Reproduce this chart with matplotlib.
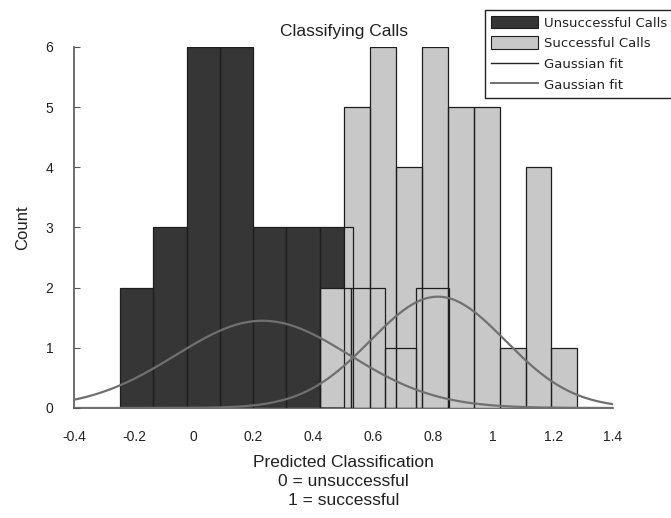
import numpy as np
import matplotlib
matplotlib.use("Agg")
import matplotlib.pyplot as plt
from matplotlib.patches import Patch
from matplotlib.lines import Line2D

plt.rcParams['font.family'] = ['Liberation Sans', 'DejaVu Sans']

# ---- data ----
unsucc_edges = [-0.246, -0.135, -0.024, 0.087, 0.198, 0.309, 0.420, 0.531]
unsucc_counts = [2, 3, 6, 6, 3, 3, 3]

succ_wide_edges = [0.423, 0.525, 0.640, 0.743, 0.853]
succ_wide_counts = [2, 2, 1, 2]

succ_edges = [0.503, 0.589, 0.676, 0.762, 0.849, 0.935, 1.021, 1.108, 1.194, 1.280]
succ_counts = [5, 6, 4, 6, 5, 5, 1, 4, 1]

# Gaussian fit parameters (amplitude, mean, sigma)
fit_unsucc = (1.45, 0.23, 0.29)
fit_succ = (1.85, 0.815, 0.225)

xticks = [-0.4, -0.2, 0, 0.2, 0.4, 0.6, 0.8, 1, 1.2, 1.4]
xticklabels = ['-0.4', '-0.2', '0', '0.2', '0.4', '0.6', '0.8', '1', '1.2', '1.4']
yticks = [0, 1, 2, 3, 4, 5, 6]

DARK = '#363636'
LIGHT = '#c8c8c8'
EDGE = '#1e1e1e'
CURVE = '#707070'

fig = plt.figure(figsize=(6.71, 5.18), dpi=100)
ax = fig.add_axes([0.1103, 0.2124, 0.8033, 0.6969])

def bars(edges, counts, **kw):
    e = np.asarray(edges)
    return ax.bar(e[:-1], counts, width=np.diff(e), align='edge', **kw)

# fills
bars(unsucc_edges, unsucc_counts, color=DARK, linewidth=0, zorder=1)
bars(succ_wide_edges, succ_wide_counts, color=LIGHT, linewidth=0, zorder=2)
bars(succ_edges, succ_counts, color=LIGHT, linewidth=0, zorder=3)
# edges on top
for ed, ct in [(unsucc_edges, unsucc_counts), (succ_wide_edges, succ_wide_counts),
               (succ_edges, succ_counts)]:
    bars(ed, ct, fill=False, edgecolor=EDGE, linewidth=0.9, zorder=4)

# gaussian fits
xs = np.linspace(-0.4, 1.4, 400)
for (a, m, s) in [fit_unsucc, fit_succ]:
    ax.plot(xs, a * np.exp(-(xs - m) ** 2 / (2 * s ** 2)), color=CURVE, lw=1.6, zorder=5)

ax.set_xlim(-0.4, 1.4)
ax.set_ylim(0, 6)
ax.set_xticks(xticks)
ax.set_xticklabels(xticklabels)
ax.set_yticks(yticks)
ax.tick_params(direction='in', length=4, colors='#555555', labelcolor='#222222',
               labelsize=10)
ax.tick_params(axis='x', pad=16, length=0)
ax.tick_params(axis='y', pad=15)
for sp in ['top', 'right']:
    ax.spines[sp].set_visible(False)
for sp in ['left', 'bottom']:
    ax.spines[sp].set_color('#555555')
    ax.spines[sp].set_linewidth(1.2)

ax.set_title('Classifying Calls', fontsize=12.5, color='#222222', pad=8)
ax.set_xlabel('Predicted Classification\n0 = unsuccessful\n1 = successful',
              fontsize=12.5, color='#222222', labelpad=8, linespacing=1.3)
ax.set_ylabel('Count', fontsize=12, color='#222222', labelpad=11)

handles = [Patch(facecolor=DARK, edgecolor=EDGE, linewidth=0.8),
           Patch(facecolor=LIGHT, edgecolor=EDGE, linewidth=0.8),
           Line2D([], [], color='#222222', lw=1.0),
           Line2D([], [], color=CURVE, lw=1.4)]
labels = ['Unsuccessful Calls', 'Successful Calls', 'Gaussian fit', 'Gaussian fit']
leg = fig.legend(handles, labels, loc='upper left', bbox_to_anchor=(0.7228, 0.981),
                 prop={'family': 'DejaVu Sans', 'size': 9.5},
                 fancybox=False, framealpha=1, edgecolor='#222222',
                 handlelength=3.55, handleheight=1.1, labelspacing=0.52,
                 borderpad=0.45, handletextpad=0.5, borderaxespad=0)
leg.get_frame().set_linewidth(1.0)
for t in leg.get_texts():
    t.set_color('#222222')

fig.savefig('out.png', dpi=100)
